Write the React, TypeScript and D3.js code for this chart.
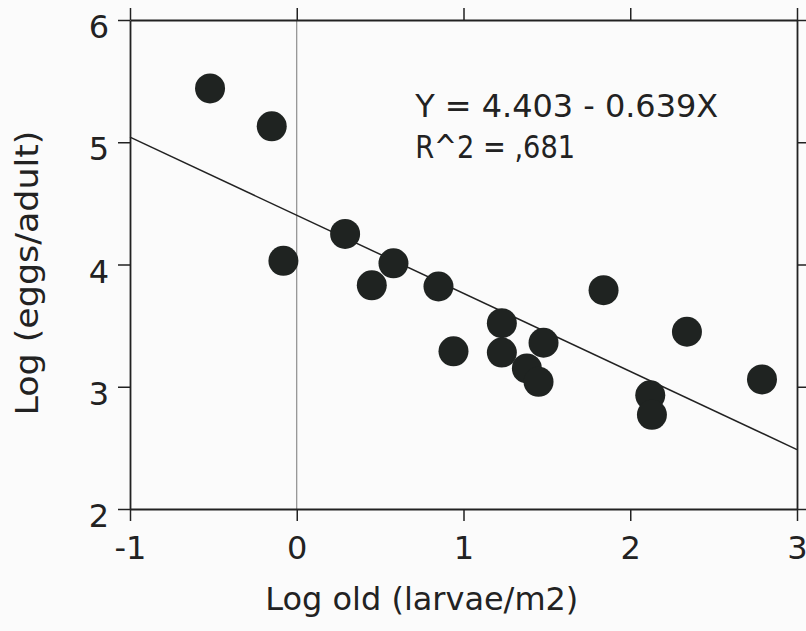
import React, { useEffect, useRef } from "react";
import * as d3 from "d3";

// values
const logOld = [-0.52, -0.15, -0.08, 0.29, 0.58, 0.45, 0.85, 1.84, 0.94, 1.23, 1.23, 1.48, 1.38, 1.45, 2.34, 2.12, 2.13, 2.79];
const logEggs = [5.44, 5.13, 4.03, 4.25, 4.01, 3.83, 3.82, 3.79, 3.29, 3.52, 3.28, 3.36, 3.15, 3.04, 3.45, 2.93, 2.77, 3.06];
const xTicks = [-1, 0, 1, 2, 3];
const yTicks = [2, 3, 4, 5, 6];
const intercept = 4.403;
const slope = -0.639;
const eqLines = ["Y = 4.403 - 0.639X", "R^2 = ,681"];

const W = 806;
const H = 631;
const FONT = "'DejaVu Sans', Verdana, sans-serif";
const INK = "#222";

const App = () => {
  const svgRef = useRef<SVGSVGElement>(null);

  useEffect(() => {
    const svg = d3.select(svgRef.current);
    svg.selectAll("*").remove();

    const x = d3.scaleLinear().domain([-1, 3]).range([130, 797]);
    const y = d3.scaleLinear().domain([2, 6]).range([509, 20]);

    svg.append("rect").attr("width", W).attr("height", H).attr("fill", "#fbfbfb");

    // zero reference line
    svg.append("line")
      .attr("x1", x(0)).attr("x2", x(0))
      .attr("y1", y(6)).attr("y2", y(2))
      .attr("stroke", "#777").attr("stroke-width", 1);

    const styleAxis = (g, labels) => {
      g.selectAll("path.domain").attr("stroke", INK).attr("stroke-width", 1.8);
      g.selectAll(".tick line").attr("stroke", INK).attr("stroke-width", 1.5);
      g.selectAll(".tick text")
        .attr("fill", INK)
        .style("font-family", FONT)
        .style("font-size", "32px");
      if (!labels) g.selectAll(".tick text").remove();
    };

    const fmt = (d) => String(d);

    svg.append("g").attr("transform", `translate(0,${y(2)})`)
      .call(d3.axisBottom(x).tickValues(xTicks).tickSize(12).tickSizeOuter(0).tickPadding(22).tickFormat(fmt))
      .call(g => styleAxis(g, true))
      .call(g => g.selectAll(".tick text").attr("dy", "0.5em"));

    svg.append("g").attr("transform", `translate(0,${y(6)})`)
      .call(d3.axisTop(x).tickValues(xTicks).tickSize(12).tickSizeOuter(0))
      .call(g => styleAxis(g, false));

    svg.append("g").attr("transform", `translate(${x(-1)},0)`)
      .call(d3.axisLeft(y).tickValues(yTicks).tickSize(12).tickSizeOuter(0).tickPadding(9).tickFormat(fmt))
      .call(g => styleAxis(g, true))
      .call(g => g.selectAll(".tick text").attr("dy", "0.55em"));

    svg.append("g").attr("transform", `translate(${x(3)},0)`)
      .call(d3.axisRight(y).tickValues(yTicks).tickSize(12).tickSizeOuter(0))
      .call(g => styleAxis(g, false));

    // regression line
    const line = d3.line<number>().x(d => x(d)).y(d => y(intercept + slope * d));
    svg.append("path")
      .attr("d", line(x.domain()))
      .attr("fill", "none")
      .attr("stroke", INK)
      .attr("stroke-width", 1.5);

    // points
    svg.append("g")
      .selectAll("circle")
      .data(logOld.map((v, i) => [v, logEggs[i]]))
      .join("circle")
      .attr("cx", d => x(d[0]))
      .attr("cy", d => y(d[1]))
      .attr("r", 15)
      .attr("fill", "#1f2321");

    // equation
    const eqWidths = [303, 160];
    svg.append("g")
      .selectAll("text")
      .data(eqLines)
      .join("text")
      .attr("x", x(0.71))
      .attr("y", (d, i) => y(5.207) + i * 41)
      .attr("textLength", (d, i) => eqWidths[i])
      .attr("lengthAdjust", "spacingAndGlyphs")
      .attr("fill", INK)
      .style("font-family", FONT)
      .style("font-size", "32px")
      .text(d => d);

    // axis titles
    svg.append("text")
      .attr("x", x(0.75))
      .attr("y", 610)
      .attr("text-anchor", "middle")
      .attr("textLength", 313)
      .attr("lengthAdjust", "spacingAndGlyphs")
      .attr("fill", INK)
      .style("font-family", FONT)
      .style("font-size", "32px")
      .text("Log old (larvae/m2)");

    svg.append("text")
      .attr("transform", `translate(38,${y(3.93)}) rotate(-90)`)
      .attr("text-anchor", "middle")
      .attr("textLength", 285)
      .attr("lengthAdjust", "spacingAndGlyphs")
      .attr("fill", INK)
      .style("font-family", FONT)
      .style("font-size", "32px")
      .text("Log (eggs/adult)");
  }, []);

  return (
    <div style={{ position: "fixed", left: 0, top: 0 }}>
      <svg ref={svgRef} width={W} height={H} style={{ display: "block" }}></svg>
    </div>
  );
};

export default App;
